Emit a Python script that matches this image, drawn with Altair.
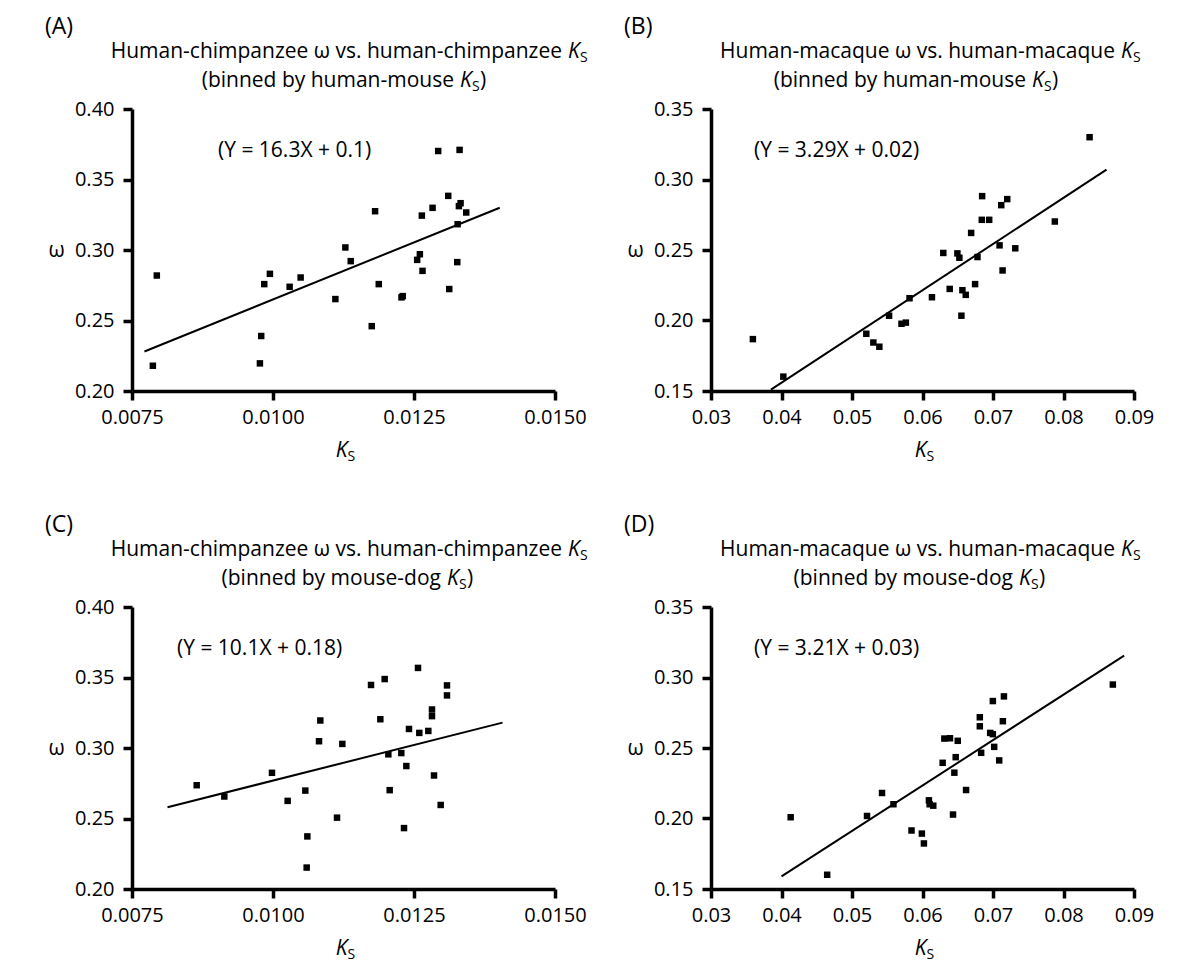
import altair as alt
import pandas as pd

FONT = "Open Sans"

# ---------------- data ----------------
A_KS = [0.00794, 0.00787, 0.009845, 0.009945, 0.009791, 0.009768, 0.010295, 0.01049,
        0.011106, 0.011283, 0.011378, 0.01181, 0.011875, 0.011751, 0.012278, 0.0123,
        0.012556, 0.012604, 0.012651, 0.012639, 0.012829, 0.012929, 0.013308, 0.013107,
        0.013125, 0.013267, 0.013273, 0.013296, 0.013326, 0.013426]
A_W = [0.2819, 0.2179, 0.2758, 0.2831, 0.2390, 0.2196, 0.2739, 0.2805,
       0.2652, 0.3018, 0.2921, 0.3275, 0.2758, 0.2460, 0.2664, 0.2673,
       0.2930, 0.2970, 0.2852, 0.3244, 0.3299, 0.3702, 0.3710, 0.3384,
       0.2723, 0.2914, 0.3183, 0.3311, 0.3332, 0.3266]
A_FIT_KS = [0.00772, 0.01402]
A_FIT_W = [0.228, 0.330]

B_KS = [0.0837, 0.03594, 0.04026, 0.05203, 0.05303, 0.05388, 0.05526, 0.05702,
        0.05764, 0.05816, 0.06134, 0.06295, 0.06386, 0.06495, 0.06523, 0.06566,
        0.06613, 0.06552, 0.0669, 0.06746, 0.0678, 0.06841, 0.06846, 0.06946,
        0.07093, 0.07117, 0.07202, 0.07136, 0.07316, 0.07877]
B_W = [0.330, 0.1868, 0.1602, 0.1906, 0.1844, 0.1814, 0.2034, 0.1977,
       0.1985, 0.2158, 0.2165, 0.2479, 0.2224, 0.2476, 0.2445, 0.2215,
       0.2182, 0.2034, 0.2621, 0.2258, 0.2450, 0.2714, 0.2882, 0.2714,
       0.2533, 0.2818, 0.2861, 0.2355, 0.2512, 0.2702]
B_FIT_KS = [0.0385, 0.0861]
B_FIT_W = [0.151, 0.307]

C_KS = [0.008647, 0.009137, 0.009982, 0.01026, 0.010573, 0.010609, 0.010597, 0.010816,
        0.010839, 0.011135, 0.011229, 0.011738, 0.011903, 0.01198, 0.012045, 0.012069,
        0.012275, 0.012323, 0.012364, 0.012411, 0.012571, 0.012594, 0.012754, 0.012819,
        0.012819, 0.012855, 0.012973, 0.013085, 0.013085]
C_W = [0.2736, 0.2656, 0.2824, 0.2625, 0.2698, 0.2373, 0.2152, 0.3048,
       0.3195, 0.2506, 0.3029, 0.3447, 0.3204, 0.3489, 0.2955, 0.2701,
       0.2964, 0.2432, 0.2872, 0.3135, 0.3568, 0.3107, 0.3121, 0.3273,
       0.3226, 0.2805, 0.2596, 0.3444, 0.3373]
C_FIT_KS = [0.00813, 0.01407]
C_FIT_W = [0.258, 0.318]

D_KS = [0.0413, 0.04648, 0.05213, 0.05426, 0.05588, 0.05844, 0.05991, 0.0602,
        0.06091, 0.06101, 0.06153, 0.06286, 0.0631, 0.0639, 0.06433, 0.06452,
        0.06471, 0.0650, 0.06618, 0.06813, 0.06813, 0.06832, 0.0696, 0.06998,
        0.06998, 0.07017, 0.07088, 0.0714, 0.07155, 0.0870]
D_W = [0.2009, 0.1601, 0.2018, 0.2181, 0.2101, 0.1915, 0.1893, 0.1823,
       0.2129, 0.2101, 0.2091, 0.2395, 0.2567, 0.2569, 0.2028, 0.2325,
       0.2435, 0.2551, 0.2202, 0.2718, 0.2654, 0.2466, 0.2607, 0.2598,
       0.2833, 0.2508, 0.2412, 0.2690, 0.2866, 0.2950]
D_FIT_KS = [0.0400, 0.0886]
D_FIT_W = [0.159, 0.3155]

LABELS = ["(A)", "(B)", "(C)", "(D)"]
TITLE_LINE1 = ["Human-chimpanzee \u03c9 vs. human-chimpanzee",
               "Human-macaque \u03c9 vs. human-macaque",
               "Human-chimpanzee \u03c9 vs. human-chimpanzee",
               "Human-macaque \u03c9 vs. human-macaque"]
TITLE_LINE2 = ["(binned by human-mouse", "(binned by human-mouse",
               "(binned by mouse-dog", "(binned by mouse-dog"]
EQUATIONS = ["(Y = 16.3X + 0.1)", "(Y = 3.29X + 0.02)",
             "(Y = 10.1X + 0.18)", "(Y = 3.21X + 0.03)"]

KS_SMALL_TICKS = [0.0075, 0.0100, 0.0125, 0.0150]
KS_LARGE_TICKS = [0.03, 0.04, 0.05, 0.06, 0.07, 0.08, 0.09]
W_TICKS_HIGH = [0.20, 0.25, 0.30, 0.35, 0.40]
W_TICKS_LOW = [0.15, 0.20, 0.25, 0.30, 0.35]

W = 423
H = 282


def txt(s, x, y, size, align="left", baseline="alphabetic", style="normal"):
    return alt.Chart(pd.DataFrame({"t": [s]})).mark_text(
        align=align, baseline=baseline, font=FONT, fontSize=size,
        fontStyle=style, color="black"
    ).encode(x=alt.value(x), y=alt.value(y), text="t:N")


def ks_parts(prefix, kx, y, size, suffix=None):
    parts = [
        txt(prefix, kx - 6, y, size, align="right"),
        txt("K", kx, y, size, style="italic"),
        txt("S", kx + 12, y + 4, 14),
    ]
    if suffix:
        parts.append(txt(suffix, kx + 20, y, size))
    return parts


def panel(i, ks, w, fit_ks, fit_w, xdom, xticks, xfmt, ydom, yticks,
          eq_x, k1, k2):
    pts = pd.DataFrame({"ks": ks, "w": w})
    fit = pd.DataFrame({"ks": fit_ks, "w": fit_w})
    xs = alt.Scale(domain=xdom, nice=False, zero=False)
    ys = alt.Scale(domain=ydom, nice=False, zero=False)
    xaxis = alt.Axis(values=xticks, format=xfmt, title=None, labelFlush=False,
                     labelOverlap=False, labelPadding=7)
    yaxis = alt.Axis(values=yticks, format=".2f", title="\u03c9", titleAngle=0,
                     titleX=-76, titleY=H / 2, titleAlign="center",
                     titleBaseline="middle", labelFlush=False, labelOverlap=False,
                     labelPadding=9)
    points = alt.Chart(pts).mark_square(size=42, color="black", opacity=1).encode(
        x=alt.X("ks:Q", scale=xs, axis=xaxis),
        y=alt.Y("w:Q", scale=ys, axis=yaxis),
    )
    line = alt.Chart(fit).mark_line(color="black", strokeWidth=2).encode(
        x="ks:Q", y="w:Q")
    layers = [points, line,
              txt(EQUATIONS[i], eq_x, 42, 21, baseline="middle"),
              txt(LABELS[i], -87, -82, 23, baseline="middle")]
    layers += ks_parts(TITLE_LINE1[i], k1, -51, 21)
    layers += ks_parts(TITLE_LINE2[i], k2, -22, 21, suffix=")")
    layers += [txt("K", W / 2 + 4, 348, 21, align="right", style="italic"),
               txt("S", W / 2 + 4, 352, 14)]
    return alt.layer(*layers).properties(width=W, height=H)


pA = panel(0, A_KS, A_W, A_FIT_KS, A_FIT_W, [0.0075, 0.0150], KS_SMALL_TICKS, ".4f",
           [0.20, 0.40], W_TICKS_HIGH, 86, 436, 328)
pB = panel(1, B_KS, B_W, B_FIT_KS, B_FIT_W, [0.03, 0.09], KS_LARGE_TICKS, ".2f",
           [0.15, 0.35], W_TICKS_LOW, 43, 410, 321)
pC = panel(2, C_KS, C_W, C_FIT_KS, C_FIT_W, [0.0075, 0.0150], KS_SMALL_TICKS, ".4f",
           [0.20, 0.40], W_TICKS_HIGH, 45, 436, 315)
pD = panel(3, D_KS, D_W, D_FIT_KS, D_FIT_W, [0.03, 0.09], KS_LARGE_TICKS, ".2f",
           [0.15, 0.35], W_TICKS_LOW, 43, 410, 308)

row1 = alt.hconcat(pA, pB, spacing=36)
row2 = alt.hconcat(pC, pD, spacing=36)
chart = alt.vconcat(row1, row2, spacing=50).properties(
    padding={"left": 37, "top": 8, "right": 5, "bottom": 5},
    background="white",
).configure_view(stroke=None).configure_axis(
    grid=False,
    domainColor="black", domainWidth=3.5,
    tickColor="black", tickWidth=3.5, tickSize=9,
    labelFont=FONT, labelFontSize=20, labelColor="black",
    titleFont=FONT, titleFontSize=21, titleColor="black", titleFontWeight="normal",
)

chart.save("out.html", embed_options={"renderer": "svg", "actions": False})
